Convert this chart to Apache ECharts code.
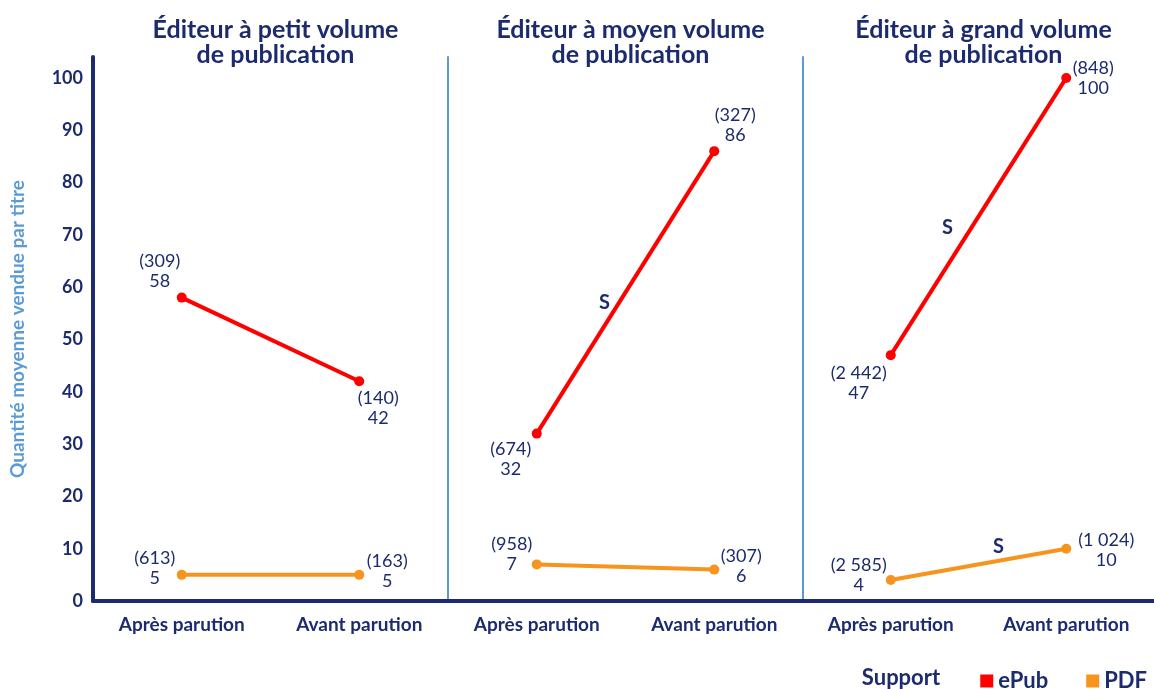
<!DOCTYPE html>
<html>
<head>
<meta charset="utf-8">
<script src="https://cdn.jsdelivr.net/npm/echarts@6/dist/echarts.min.js"></script>
<style>
  html, body { margin: 0; padding: 0; background: #fff; }
  #main { width: 1154px; height: 689px; }
</style>
</head>
<body>
<div id="main"></div>
<script>
const categories = ['Après parution', 'Avant parution'];
const panelTitles = [
  'Éditeur à petit volume\nde publication',
  'Éditeur à moyen volume\nde publication',
  'Éditeur à grand volume\nde publication'
];
// moyenne vendue par titre, un tableau par panneau
const epubValues = [[58, 42], [32, 86], [47, 100]];
const pdfValues = [[5, 5], [7, 6], [4, 10]];
// nombre de titres (entre parenthèses)
const epubCounts = [[309, 140], [674, 327], [2442, 848]];
const pdfCounts = [[613, 163], [958, 307], [2585, 1024]];
// écart significatif (S) : [ePub, PDF] par panneau
const significant = [[false, false], [true, false], [true, true]];

const navy = '#1c2b6e';
const lightBlue = '#5b9bd5';
const red = '#ff0000';
const orange = '#f7941d';
const font = 'Lato';

// décalage centre étiquette / point, en px
const epubLabelOffsets = [[[-22, -26], [19, 27]], [[-26, 26], [21, -26]], [[-32, 28], [27, 0]]];
const pdfLabelOffsets = [[[-27, -7], [28, -4]], [[-25, -10], [27, -3]], [[-32, -5], [40, 1]]];
const sOffsets = { epub: [[0, 0], [-21, 10], [-31, 11]], pdf: [[0, 0], [0, 0], [20, -18]] };

const grids = [
  { left: 93, width: 355 },
  { left: 448, width: 355 },
  { left: 803, width: 351 }
];

function fmtCount(n) {
  return String(n).replace(/\B(?=(\d{3})+(?!\d))/g, ' ');
}

function makeData(values, counts, offsets) {
  return values.map((v, j) => ({
    value: v,
    label: {
      show: true,
      position: [offsets[j][0] + 5, offsets[j][1] + 5],
      align: 'center',
      verticalAlign: 'middle',
      formatter: '(' + fmtCount(counts[j]) + ')\n' + v,
      color: navy,
      fontFamily: font,
      fontSize: 18,
      lineHeight: 20
    }
  }));
}

const chart = echarts.init(document.getElementById('main'));

let series = [];
for (let i = 0; i < 3; i++) {
  series.push({
    name: 'ePub',
    type: 'line',
    xAxisIndex: i,
    yAxisIndex: i,
    symbol: 'circle',
    symbolSize: 10,
    itemStyle: { color: red },
    lineStyle: { color: red, width: 4 },
    data: makeData(epubValues[i], epubCounts[i], epubLabelOffsets[i]),
    animation: false
  });
  series.push({
    name: 'PDF',
    type: 'line',
    xAxisIndex: i,
    yAxisIndex: i,
    symbol: 'circle',
    symbolSize: 10,
    itemStyle: { color: orange },
    lineStyle: { color: orange, width: 4 },
    data: makeData(pdfValues[i], pdfCounts[i], pdfLabelOffsets[i]),
    animation: false
  });
}

let option = {
  backgroundColor: '#fff',
  animation: false,
  title: panelTitles.map((t, i) => ({
    text: t,
    left: grids[i].left + grids[i].width / 2,
    top: 12,
    textAlign: 'center',
    textStyle: { color: navy, fontFamily: font, fontWeight: 'bold', fontSize: 25, lineHeight: 25 }
  })),
  legend: {
    data: ['ePub', 'PDF'],
    right: 2,
    top: 665,
    icon: 'rect',
    itemWidth: 13,
    itemHeight: 13,
    itemGap: 38,
    textStyle: { color: navy, fontFamily: font, fontWeight: 'bold', fontSize: 22 }
  },
  grid: grids.map(g => ({ left: g.left, width: g.width, top: 57, bottom: 88 })),
  xAxis: grids.map((g, i) => ({
    type: 'category',
    gridIndex: i,
    data: categories,
    axisLine: { lineStyle: { color: navy, width: 4 } },
    axisTick: { show: false },
    axisLabel: { color: navy, fontFamily: font, fontWeight: 'bold', fontSize: 19, margin: 14 }
  })),
  yAxis: grids.map((g, i) => ({
    type: 'value',
    gridIndex: i,
    min: 0,
    max: 104,
    interval: 10,
    name: i === 0 ? 'Quantité moyenne vendue par titre' : '',
    nameLocation: 'middle',
    nameGap: 66,
    nameTextStyle: { color: lightBlue, fontFamily: font, fontWeight: 'bold', fontSize: 19 },
    axisLine: { show: true, lineStyle: { color: i === 0 ? navy : lightBlue, width: i === 0 ? 4 : 2 } },
    axisTick: { show: false },
    splitLine: { show: false },
    axisLabel: {
      show: i === 0,
      color: navy,
      fontFamily: font,
      fontWeight: 'bold',
      fontSize: 18,
      margin: 10,
      formatter: v => (v % 10 === 0 ? String(v) : '')
    }
  })),
  series: series
};

option && chart.setOption(option);

// marqueurs S au milieu des segments significatifs
let graphics = [];
for (let i = 0; i < 3; i++) {
  [['epub', epubValues[i], 0], ['pdf', pdfValues[i], 1]].forEach(([key, vals, k]) => {
    if (!significant[i][k]) return;
    const p0 = chart.convertToPixel({ gridIndex: i }, [0, vals[0]]);
    const p1 = chart.convertToPixel({ gridIndex: i }, [1, vals[1]]);
    const off = sOffsets[key][i];
    graphics.push({
      type: 'text',
      x: (p0[0] + p1[0]) / 2 + off[0],
      y: (p0[1] + p1[1]) / 2 + off[1],
      style: {
        text: 'S',
        fill: navy,
        font: 'bold 20px ' + font,
        textAlign: 'center',
        textVerticalAlign: 'middle'
      }
    });
  });
}
graphics.push({
  type: 'text',
  x: 901,
  y: 678,
  style: { text: 'Support', fill: navy, font: 'bold 22px ' + font, textAlign: 'center', textVerticalAlign: 'middle' }
});
chart.setOption({ graphic: graphics });
</script>
</body>
</html>
